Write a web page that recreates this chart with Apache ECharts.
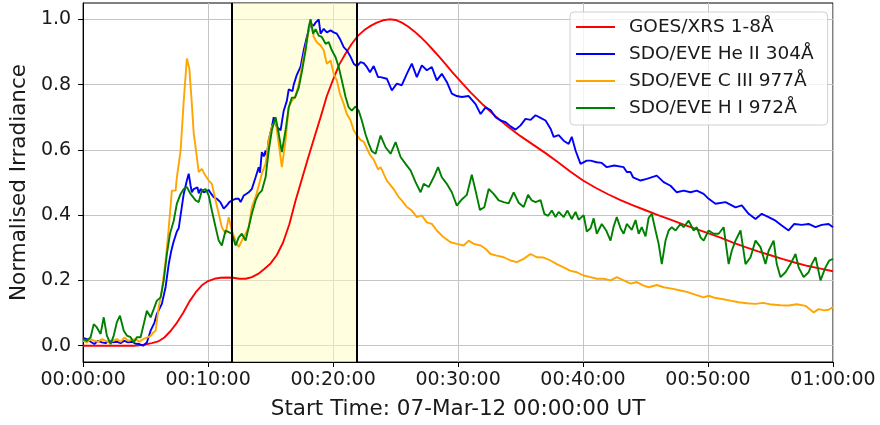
<!DOCTYPE html>
<html>
<head>
<meta charset="utf-8">
<script src="https://cdn.jsdelivr.net/npm/echarts@6/dist/echarts.min.js"></script>
<style>
  html, body { margin: 0; padding: 0; background: #ffffff; }
  #chart { width: 880px; height: 425px; }
</style>
</head>
<body>
<div id="chart"></div>
<script>
// Flare of 07-Mar-2012: normalised light curves, minutes after 00:00:00 UT.

// GOES/XRS 1-8 Å
const goesMin = [0,1,2,3,4,4.5,5,5.5,6,6.5,7,7.5,8,8.5,9,9.5,10,10.5,11,11.5,12,12.5,13,13.5,14,14.5,15,15.5,16,16.5,17,17.5,18,18.5,19,19.5,20,20.5,21,21.5,22,22.5,23,23.5,24,24.5,25,25.5,26,26.5,27,27.5,28,28.5,29,29.5,30,31,32,33,34,35,36,37,38,39,40,41,42,43,44,45,46,47,48,49,50,51,52,53,54,55,56,57,58,59,60];
const goesVal = [0,0,0,0,0,0.001,0.004,0.008,0.013,0.025,0.045,0.07,0.1,0.135,0.163,0.185,0.198,0.205,0.208,0.209,0.208,0.205,0.205,0.21,0.22,0.235,0.252,0.278,0.316,0.372,0.445,0.51,0.575,0.638,0.70,0.765,0.815,0.862,0.895,0.925,0.95,0.967,0.98,0.99,0.997,1.0,0.998,0.99,0.978,0.963,0.946,0.927,0.906,0.885,0.863,0.84,0.818,0.776,0.738,0.703,0.671,0.642,0.616,0.59,0.562,0.533,0.506,0.484,0.464,0.446,0.43,0.415,0.4,0.386,0.372,0.358,0.345,0.331,0.316,0.302,0.289,0.277,0.265,0.254,0.244,0.236,0.228];

// SDO/EVE He II 304 Å
const heMin = [0,0.3,0.6,0.9,1.2,1.5,1.8,2.1,2.4,2.7,3.0,3.3,3.6,3.9,4.2,4.5,4.8,5.1,5.4,5.7,5.9,6.3,6.6,6.85,7.05,7.25,7.5,7.65,7.8,8.05,8.3,8.45,8.6,8.7,8.85,9.0,9.15,9.25,9.4,9.5,9.65,9.8,10.05,10.25,10.45,10.7,10.98,11.25,11.5,11.7,11.9,12.2,12.45,12.6,12.85,13.05,13.25,13.5,13.65,13.8,14.05,14.15,14.3,14.45,14.6,14.7,14.85,15.1,15.25,15.4,15.5,15.8,16.05,16.3,16.45,16.6,16.75,16.85,17.1,17.4,17.65,17.9,18.2,18.45,18.6,18.85,19.0,19.25,19.5,19.8,20.05,20.3,20.55,20.85,21.1,21.4,21.65,21.9,22.2,22.45,22.7,22.95,23.25,23.6,23.8,24.3,24.7,25.1,25.5,25.9,26.3,26.7,27.1,27.5,27.9,28.3,28.7,29.1,29.5,29.9,30.3,30.85,31.4,31.8,32.2,32.6,33.0,33.4,33.8,34.2,34.6,35.0,35.4,35.8,36.2,36.6,37.0,37.4,37.65,38.05,38.45,38.85,39.1,39.4,39.8,40.3,40.6,41.1,41.5,41.9,42.5,43.25,43.5,43.8,44.0,44.6,45.1,45.9,46.45,47.0,47.5,48.05,48.6,49.1,49.65,50.05,50.6,51.4,52.2,52.7,53.25,53.8,54.3,54.85,55.4,55.9,56.45,56.9,57.5,58.05,58.6,59.1,59.65,60];
const heVal = [0.024,0.02,0.012,0.005,0.015,0.01,0.008,0.015,0.01,0.012,0.008,0.015,0.01,0.012,0.006,0.005,0.0,0.01,0.046,0.07,0.097,0.128,0.18,0.25,0.29,0.32,0.35,0.36,0.40,0.465,0.506,0.527,0.49,0.47,0.48,0.475,0.485,0.467,0.48,0.48,0.47,0.475,0.477,0.465,0.455,0.45,0.44,0.42,0.43,0.44,0.445,0.45,0.45,0.44,0.46,0.465,0.47,0.48,0.48,0.516,0.547,0.53,0.593,0.58,0.598,0.58,0.63,0.67,0.70,0.68,0.67,0.66,0.72,0.75,0.785,0.79,0.78,0.80,0.83,0.855,0.905,0.946,0.987,0.98,0.99,1.0,0.956,0.971,0.96,0.966,0.96,0.956,0.94,0.915,0.905,0.885,0.864,0.856,0.869,0.866,0.854,0.838,0.857,0.823,0.823,0.818,0.782,0.803,0.798,0.833,0.864,0.823,0.859,0.844,0.854,0.813,0.833,0.808,0.772,0.765,0.762,0.765,0.74,0.71,0.73,0.722,0.70,0.69,0.685,0.672,0.662,0.675,0.695,0.692,0.706,0.698,0.69,0.665,0.64,0.645,0.628,0.618,0.64,0.598,0.557,0.567,0.567,0.562,0.56,0.547,0.552,0.547,0.532,0.532,0.516,0.506,0.511,0.521,0.501,0.49,0.47,0.475,0.47,0.475,0.465,0.45,0.435,0.44,0.424,0.43,0.404,0.388,0.404,0.394,0.383,0.368,0.353,0.373,0.37,0.373,0.363,0.37,0.373,0.363];

// SDO/EVE C III 977 Å
const ciiiMin = [0,0.3,0.6,0.9,1.2,1.5,1.8,2.1,2.4,2.7,3.0,3.3,3.6,3.9,4.2,4.5,4.8,5.1,5.4,5.6,5.8,6.05,6.3,6.6,6.85,7.1,7.25,7.4,7.5,7.65,7.8,8.05,8.3,8.5,8.7,8.85,9.0,9.25,9.5,9.65,9.8,10.05,10.3,10.6,10.85,11.1,11.4,11.65,11.9,12.2,12.45,12.7,13.0,13.25,13.5,13.8,14.05,14.3,14.6,14.85,15.1,15.4,15.65,15.9,16.2,16.45,16.7,16.95,17.25,17.5,17.8,18.05,18.2,18.45,18.7,19.0,19.25,19.5,19.8,20.05,20.3,20.55,20.85,21.1,21.4,21.65,21.9,22.2,22.45,22.7,22.95,23.25,23.6,23.8,24.3,24.85,25.25,25.5,25.9,26.3,26.7,27.1,27.5,27.9,28.3,28.85,29.4,29.9,30.45,30.85,31.25,31.8,32.2,32.6,33.1,33.65,34.2,34.7,35.25,35.8,36.3,36.85,37.4,37.9,38.45,38.95,39.5,40.05,40.6,41.1,41.65,42.2,42.7,43.25,43.8,44.3,44.85,45.25,45.9,46.45,47.1,47.8,48.3,48.85,49.65,50.05,50.6,51.1,51.8,52.45,53.1,53.8,54.4,55.1,55.8,56.45,57.1,57.8,58.45,58.85,59.3,59.65,60];
const ciiiVal = [0.015,0.01,0.02,0.015,0.012,0.02,0.015,0.01,0.015,0.02,0.012,0.025,0.015,0.018,0.02,0.012,0.02,0.025,0.03,0.04,0.046,0.118,0.17,0.26,0.36,0.475,0.48,0.475,0.516,0.52,0.598,0.75,0.88,0.849,0.74,0.65,0.608,0.532,0.542,0.53,0.532,0.506,0.496,0.445,0.404,0.363,0.343,0.394,0.353,0.322,0.302,0.322,0.343,0.363,0.425,0.455,0.49,0.527,0.557,0.63,0.67,0.69,0.619,0.547,0.63,0.73,0.75,0.76,0.80,0.855,0.915,0.966,1.0,0.946,0.93,0.92,0.905,0.864,0.874,0.833,0.813,0.772,0.741,0.71,0.69,0.66,0.645,0.63,0.625,0.605,0.585,0.57,0.54,0.547,0.506,0.48,0.455,0.445,0.425,0.414,0.394,0.399,0.378,0.373,0.353,0.332,0.317,0.312,0.307,0.322,0.312,0.307,0.297,0.281,0.276,0.271,0.261,0.256,0.266,0.281,0.271,0.27,0.261,0.25,0.24,0.23,0.225,0.215,0.21,0.205,0.205,0.2,0.21,0.2,0.19,0.195,0.184,0.179,0.186,0.179,0.175,0.169,0.165,0.158,0.148,0.153,0.146,0.143,0.138,0.133,0.13,0.128,0.131,0.126,0.124,0.123,0.127,0.122,0.102,0.112,0.108,0.11,0.118];

// SDO/EVE H I 972 Å
const hiMin = [0,0.3,0.6,0.85,1.1,1.4,1.65,1.9,2.2,2.45,2.7,2.95,3.25,3.5,3.8,4.05,4.3,4.6,4.85,5.1,5.4,5.65,5.9,6.2,6.45,6.7,6.95,7.25,7.5,7.8,8.05,8.3,8.6,9.0,9.25,9.5,9.8,10.05,10.3,10.6,10.85,11.1,11.4,11.65,11.9,12.2,12.45,12.7,13.0,13.25,13.5,13.8,14.05,14.3,14.6,14.85,15.1,15.4,15.65,15.9,16.2,16.45,16.7,16.95,17.25,17.5,17.8,18.05,18.2,18.4,18.6,18.85,19.1,19.4,19.65,19.9,20.2,20.45,20.7,21.0,21.25,21.5,21.8,22.05,22.3,22.6,22.85,23.1,23.4,23.8,24.2,24.6,25.0,25.4,25.8,26.2,26.6,27.0,27.25,27.65,28.05,28.4,28.7,29.1,29.5,29.9,30.3,30.7,31.1,31.4,31.75,32.1,32.45,32.85,33.25,33.65,34.05,34.45,34.85,35.25,35.6,35.9,36.2,36.6,36.9,37.2,37.5,37.8,38.05,38.45,38.75,39.1,39.4,39.65,40.05,40.3,40.6,40.85,41.1,41.5,41.85,42.2,42.45,42.7,43.0,43.25,43.5,43.9,44.2,44.45,44.7,45.0,45.25,45.5,45.8,46.05,46.3,46.6,46.85,47.1,47.4,47.8,48.05,48.45,48.85,49.1,49.4,49.65,50.05,50.45,50.85,51.25,51.65,51.9,52.2,52.6,53.0,53.4,53.8,54.2,54.6,54.85,55.25,55.5,55.8,56.2,56.6,57.0,57.25,57.65,58.05,58.3,58.6,59.0,59.4,59.7,60];
const hiVal = [0.02,0.015,0.026,0.066,0.056,0.036,0.087,0.031,0.005,0.031,0.072,0.092,0.046,0.031,0.026,0.01,0.026,0.026,0.066,0.107,0.087,0.112,0.138,0.148,0.2,0.28,0.343,0.383,0.435,0.465,0.48,0.486,0.465,0.445,0.44,0.475,0.48,0.46,0.414,0.363,0.322,0.307,0.353,0.348,0.343,0.307,0.332,0.343,0.322,0.363,0.404,0.445,0.465,0.475,0.516,0.598,0.66,0.70,0.65,0.593,0.66,0.73,0.76,0.76,0.79,0.838,0.905,0.976,1.0,0.956,0.97,0.95,0.946,0.925,0.93,0.905,0.884,0.854,0.813,0.762,0.73,0.72,0.733,0.72,0.69,0.647,0.619,0.596,0.588,0.644,0.608,0.588,0.624,0.578,0.557,0.537,0.501,0.47,0.496,0.486,0.516,0.547,0.516,0.496,0.47,0.429,0.448,0.462,0.524,0.475,0.416,0.424,0.48,0.465,0.445,0.44,0.436,0.47,0.438,0.425,0.462,0.445,0.44,0.446,0.404,0.398,0.414,0.394,0.41,0.394,0.414,0.388,0.41,0.386,0.4,0.35,0.36,0.39,0.343,0.373,0.353,0.322,0.365,0.394,0.36,0.343,0.373,0.355,0.385,0.343,0.363,0.335,0.392,0.404,0.353,0.312,0.25,0.322,0.353,0.363,0.353,0.373,0.363,0.383,0.353,0.363,0.332,0.322,0.353,0.343,0.343,0.363,0.25,0.291,0.322,0.353,0.25,0.271,0.322,0.302,0.25,0.291,0.322,0.25,0.21,0.225,0.25,0.281,0.24,0.21,0.225,0.25,0.271,0.2,0.24,0.261,0.266,0.26];

// Shaded interval (minutes) and tick values
const spanStart = 11.93;
const spanEnd = 21.93;
const yTicks = [0, 0.2, 0.4, 0.6, 0.8, 1.0];

const FONT = 'DejaVu Sans';
const pair = (t, v) => t.map((x, i) => [x, v[i]]);
const pad2 = n => String(n).padStart(2, '0');
const hhmmss = v => pad2(Math.floor(v / 60)) + ':' + pad2(Math.round(v % 60)) + ':00';

const lineSeries = (name, color, t, v) => ({
  name, type: 'line', data: pair(t, v), showSymbol: false, symbol: 'none',
  lineStyle: { color, width: 1.9 }, itemStyle: { color }, z: 3, silent: true, animation: false
});

const chart = echarts.init(document.getElementById('chart'), null, { renderer: 'canvas' });
chart.setOption({
  animation: false,
  backgroundColor: '#ffffff',
  textStyle: { fontFamily: FONT },
  grid: { left: 82, right: 47, top: 3, bottom: 63, show: true, borderColor: '#000000', borderWidth: 1, backgroundColor: 'transparent' },
  legend: {
    data: ['GOES/XRS 1-8Å', 'SDO/EVE He II 304Å', 'SDO/EVE C III 977Å', 'SDO/EVE H I 972Å'],
    orient: 'vertical', left: 570, top: 12,
    icon: 'rect', itemWidth: 39, itemHeight: 2, itemGap: 7,
    padding: [5, 14, 7, 6],
    backgroundColor: 'rgba(255,255,255,0.8)', borderColor: '#d0d0d0', borderWidth: 1, borderRadius: 4,
    textStyle: { fontFamily: FONT, fontSize: 18.5, color: '#1a1a1a', lineHeight: 20, padding: [0, 0, 0, 9] }
  },
  xAxis: {
    type: 'value', min: 0, max: 60, interval: 10,
    name: 'Start Time: 07-Mar-12 00:00:00 UT', nameLocation: 'middle', nameGap: 36,
    nameTextStyle: { fontFamily: FONT, fontSize: 21.5, color: '#1a1a1a' },
    axisLine: { show: true, onZero: false, lineStyle: { color: '#000000', width: 1 } },
    axisTick: { show: true, inside: false, length: 5, lineStyle: { color: '#000000', width: 1 } },
    axisLabel: { fontFamily: FONT, fontSize: 19, color: '#1a1a1a', margin: 9, formatter: hhmmss },
    splitLine: { show: true, lineStyle: { color: '#c4c4c4', width: 1 } }
  },
  yAxis: {
    type: 'value', min: -0.05, max: 1.05,
    name: 'Normalised Irradiance', nameLocation: 'middle', nameGap: 52, nameRotate: 90,
    nameTextStyle: { fontFamily: FONT, fontSize: 21.5, color: '#1a1a1a' },
    axisLine: { show: true, lineStyle: { color: '#000000', width: 1 } },
    axisTick: { show: true, inside: false, length: 5, customValues: yTicks, lineStyle: { color: '#000000', width: 1 } },
    axisLabel: { fontFamily: FONT, fontSize: 19, color: '#1a1a1a', margin: 12, customValues: yTicks, formatter: v => v.toFixed(1) },
    splitLine: { show: true, lineStyle: { color: '#c4c4c4', width: 1 } }
  },
  series: [
    {
      name: 'interval', type: 'line', data: [], z: 1, silent: true, animation: false,
      markArea: {
        silent: true,
        itemStyle: { color: 'rgba(255,255,192,0.5)' },
        data: [[{ xAxis: spanStart }, { xAxis: spanEnd }]]
      },
      markLine: {
        silent: true, symbol: 'none', label: { show: false },
        lineStyle: { color: '#000000', width: 2, type: 'solid' },
        data: [{ xAxis: spanStart }, { xAxis: spanEnd }]
      }
    },
    lineSeries('GOES/XRS 1-8Å', '#ff0000', goesMin, goesVal),
    lineSeries('SDO/EVE He II 304Å', '#0000ff', heMin, heVal),
    lineSeries('SDO/EVE C III 977Å', '#ffa500', ciiiMin, ciiiVal),
    lineSeries('SDO/EVE H I 972Å', '#008000', hiMin, hiVal)
  ]
});
</script>
</body>
</html>
